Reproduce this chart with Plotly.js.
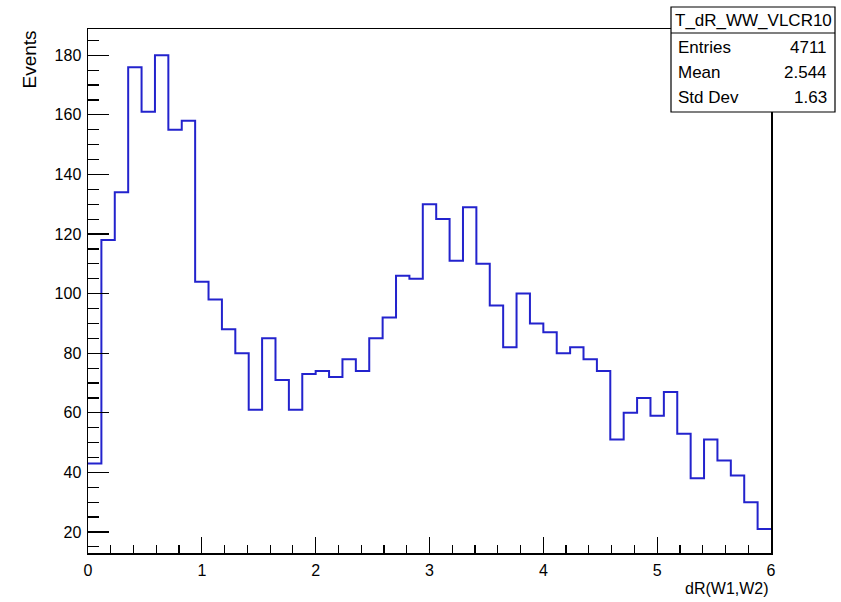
<!DOCTYPE html>
<html>
<head>
<meta charset="utf-8">
<script src="https://cdn.plot.ly/plotly-3.0.1.min.js"></script>
<style>
  html, body { margin: 0; padding: 0; background: #ffffff; }
  #chart { width: 841px; height: 602px; }
</style>
</head>
<body>
<div id="chart"></div>
<script>
// ---- Data ----
const histName = "T_dR_WW_VLCR10";
const xTitle = "dR(W1,W2)";
const yTitle = "Events";
const xLow = 0;
const xHigh = 6;
const binCounts = [
  43, 118, 134, 176, 161, 180, 155, 158, 104, 98,
  88, 80, 61, 85, 71, 61, 73, 74, 72, 78,
  74, 85, 92, 106, 105, 130, 125, 111, 129, 110,
  96, 82, 100, 90, 87, 80, 82, 78, 74, 51,
  60, 65, 59, 67, 53, 38, 51, 44, 39, 30,
  21
];
const statLabels = ["Entries", "Mean", "Std Dev"];
const statValues = ["4711", "2.544", "1.63"];
const xTickVals = [0, 1, 2, 3, 4, 5, 6];
const yTickVals = [20, 40, 60, 80, 100, 120, 140, 160, 180];

// ---- Build step outline from bin edges ----
const nBins = binCounts.length;
const binWidth = (xHigh - xLow) / nBins;
const stepX = [];
const stepY = [];
for (let i = 0; i < nBins; i++) {
  stepX.push(xLow + i * binWidth);
  stepY.push(binCounts[i]);
}
stepX.push(xHigh);
stepY.push(binCounts[nBins - 1]);

// ---- Layout geometry (pixels) ----
const W = 841, H = 602;
const mL = 88, mR = 70, mT = 29, mB = 49;
const pw = W - mL - mR, ph = H - mT - mB;
const px = (x) => (x - mL) / pw;          // pixel x -> paper x
const py = (y) => (H - mB - y) / ph;      // pixel y -> paper y

const FONT = "Liberation Sans, Arial, Helvetica, sans-serif";

const trace = {
  x: stepX,
  y: stepY,
  type: "scatter",
  mode: "lines",
  line: { shape: "hv", color: "rgb(35,35,205)", width: 2 },
  hoverinfo: "skip",
  showlegend: false
};

// stats box
const boxL = 671, boxR = 835, boxT = 7, boxB = 112, boxSep = 33;
const shapes = [
  { type: "rect", xref: "paper", yref: "paper",
    x0: px(boxL), x1: px(boxR), y0: py(boxB), y1: py(boxT),
    line: { color: "#000", width: 1.2 }, fillcolor: "#fff", layer: "above" },
  { type: "line", xref: "paper", yref: "paper",
    x0: px(boxL), x1: px(boxR), y0: py(boxSep), y1: py(boxSep),
    line: { color: "#000", width: 1.2 }, layer: "above" }
];

const rowY = [47.5, 72.5, 97.5];
const annotations = [
  { text: histName, xref: "paper", yref: "paper", x: px((boxL + boxR) / 2), y: py(20),
    xanchor: "center", yanchor: "middle", showarrow: false,
    font: { family: FONT, size: 17, color: "#000" } },
  { text: xTitle, xref: "paper", yref: "paper", x: px(771), y: py(588),
    xanchor: "right", yanchor: "middle", showarrow: false,
    font: { family: FONT, size: 16, color: "#000" } },
  { text: yTitle, xref: "paper", yref: "paper", x: px(28.5), y: py(29),
    xanchor: "center", yanchor: "top", textangle: -90, showarrow: false,
    font: { family: FONT, size: 19, color: "#000" } }
];
statLabels.forEach((lab, i) => {
  annotations.push({ text: lab, xref: "paper", yref: "paper", x: px(676), y: py(rowY[i]),
    xanchor: "left", yanchor: "middle", showarrow: false,
    font: { family: FONT, size: 17, color: "#000" } });
  annotations.push({ text: statValues[i], xref: "paper", yref: "paper", x: px(829), y: py(rowY[i]),
    xanchor: "right", yanchor: "middle", showarrow: false,
    font: { family: FONT, size: 17, color: "#000" } });
});

const layout = {
  width: W, height: H,
  margin: { l: mL, r: mR, t: mT, b: mB, pad: 0 },
  paper_bgcolor: "#fff",
  plot_bgcolor: "#fff",
  font: { family: FONT, size: 16, color: "#000" },
  showlegend: false,
  xaxis: {
    range: [xLow, xHigh],
    tickvals: xTickVals,
    ticktext: xTickVals.map(String),
    ticks: "inside", ticklen: 16, tickwidth: 1.2, tickcolor: "#000",
    minor: { dtick: 0.2, tick0: 0, ticks: "inside", ticklen: 8, tickwidth: 1.2, tickcolor: "#000", showgrid: false },
    showline: true, linecolor: "#000", linewidth: 1.5, mirror: true,
    showgrid: false, zeroline: false,
    tickfont: { family: FONT, size: 16, color: "#000" },
    ticklabelstandoff: 2,
    fixedrange: true
  },
  yaxis: {
    range: [12.95, 188.8],
    tickvals: yTickVals,
    ticktext: yTickVals.map(String),
    ticks: "inside", ticklen: 21, tickwidth: 1.2, tickcolor: "#000",
    minor: { dtick: 5, tick0: 0, ticks: "inside", ticklen: 11, tickwidth: 1.2, tickcolor: "#000", showgrid: false },
    showline: true, linecolor: "#000", linewidth: 1.5, mirror: true,
    showgrid: false, zeroline: false,
    tickfont: { family: FONT, size: 16, color: "#000" },
    ticklabelstandoff: 2,
    fixedrange: true
  },
  shapes: shapes,
  annotations: annotations
};

Plotly.newPlot("chart", [trace], layout, { staticPlot: true, displayModeBar: false });
</script>
</body>
</html>
